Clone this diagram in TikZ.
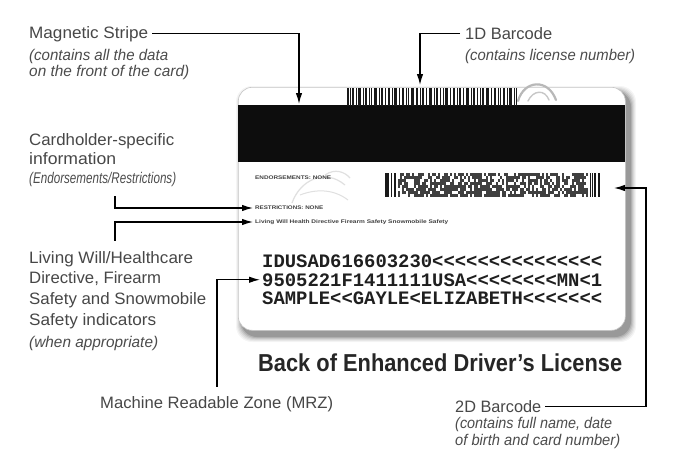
\documentclass[tikz,border=0pt]{standalone}
\usepackage{fontspec}
\usepackage{graphicx}
\setmainfont{Liberation Sans}
\newfontfamily\mrzfont{Liberation Mono}
\usetikzlibrary{arrows.meta}
\newcommand\fw[2]{\resizebox{#1pt}{\height}{#2}}
\begin{document}
\begin{tikzpicture}[x=1pt,y=-1pt,
  lbl/.style={anchor=base west,inner sep=0pt,text=black!72,font=\fontsize{16.5}{18}\selectfont},
  sub/.style={anchor=base west,inner sep=0pt,text=black!70,font=\fontsize{15.5}{17}\selectfont\itshape},
  mrz/.style={anchor=base west,inner sep=0pt,text=black!88,font=\fontsize{19}{20}\selectfont\mrzfont\bfseries},
  tiny/.style={anchor=west,inner sep=1pt,text=black!75,font=\fontsize{5.2}{6}\selectfont\bfseries},
  ln/.style={draw=black,line width=1.2pt},
  arr/.style={draw=black,line width=1.2pt,-{Latex[length=11pt,width=6.5pt]}},
  bar/.style={fill=black!90}]
\useasboundingbox (0,0) rectangle (675,461);
\fill[white] (0,0) rectangle (675,461);

% card shadow
\foreach \i/\o in {5/0.04,4/0.05,3/0.06,2/0.08,1/0.10,0/0.14}
  \fill[black,opacity=\o,rounded corners=16pt] ({238+3-\i},{87+4-\i}) rectangle ({625+6+\i},{330+7+\i});
% card
\node[draw=black!22,line width=0.6pt,fill=white,rounded corners=14pt,minimum width=387pt,minimum height=243pt,inner sep=0pt,anchor=north west] (card) at (238,87) {};
% faint decorations
\draw[black!28,line width=2.2pt,line cap=round] (518,101) .. controls (524,80) and (548,78) .. (556,100);
\draw[black!22,line width=1.4pt,line cap=round] (528,101) .. controls (533,90) and (545,89) .. (549,100);
\draw[black!12,line width=1.2pt] (292,203) .. controls (300,180) and (325,168) .. (345,185);
\draw[black!12,line width=1.2pt] (325,175) .. controls (335,168) and (345,172) .. (350,178);
\draw[black!12,line width=1.0pt] (300,195) .. controls (318,188) and (335,190) .. (348,200);
% magnetic stripe
\node[fill=black!95,minimum width=387pt,minimum height=57pt,inner sep=0pt,anchor=north west] (stripe) at (238,105) {};
% 1D barcode
\node[inner sep=0pt,minimum width=170pt,minimum height=18pt,anchor=north west] (bar1) at (347,88) {};
\foreach \x/\w in {347/2,350/1,352/2,356/1,358/3,363/1,365/2,369/1,371/1,374/3,379/1,381/2,385/1,388/2,392/1,394/3,399/1,402/2,406/1,408/1,411/3,416/2,420/1,422/2,426/1,429/3,434/1,436/2,440/1,443/1,445/3,450/1,453/2,457/1,459/2,463/1,466/3,471/1,473/2,477/1,480/1,482/2,486/3,491/1,494/2,498/1,500/1,503/2,507/1,509/3,514/1,516/1}
  \fill[bar] (\x,88) rectangle ++(\w,18);
% 2D barcode
\node[inner sep=0pt,minimum width=215pt,minimum height=24pt,anchor=north west] (bar2) at (385,173) {};
\foreach \x/\w in {385/4,391/1,394/2,590/1,592/1,594/2,598/2}
  \fill[bar] (\x,173) rectangle ++(\w,24);
\pgfmathsetseed{11}
\foreach \c in {0,...,94}{\foreach \r in {0,...,7}{%
  \pgfmathrandominteger{\v}{0}{2}%
  \ifnum\v>0 \fill[black!75] ({398+2*\c},{173+3*\r}) rectangle ++(2,3);\fi}}
% tiny texts on card
\node[tiny] (endo) at (254,178) {\fw{76}{ENDORSEMENTS: NONE}};
\node[tiny] (restr) at (254,208) {\fw{68}{RESTRICTIONS: NONE}};
\node[tiny] (liv) at (254,222) {\fw{193}{Living Will Health Directive Firearm Safety Snowmobile Safety}};
% MRZ
\node[mrz] (mrz1) at (262,267) {\fw{340}{IDUSAD616603230<<<<<<<<<<<<<<<}};
\node[mrz] (mrz2) at (262,286) {\fw{340}{9505221F1411111USA<<<<<<<<MN<1}};
\node[mrz] (mrz3) at (262,304) {\fw{340}{SAMPLE<<GAYLE<ELIZABETH<<<<<<<}};
% title
\node[anchor=base west,inner sep=0pt,text=black!85,font=\fontsize{24.5}{26}\selectfont\bfseries] (title) at (258,371) {\fw{364}{Back of Enhanced Driver’s License}};

% labels
\node[lbl] (magl) at (29,38) {\fw{119}{Magnetic Stripe}};
\node[sub] (mags1) at (29,60) {\fw{139}{(contains all the data}};
\node[sub] (mags2) at (29,76) {\fw{160}{on the front of the card)}};

\node[lbl] (b1l) at (465,39) {\fw{87}{1D Barcode}};
\node[sub] (b1s) at (465,60) {\fw{170}{(contains license number)}};

\node[lbl] (chl1) at (29,145) {\fw{145}{Cardholder-specific}};
\node[lbl] (chl2) at (29,164) {\fw{87}{information}};
\node[sub] (chl3) at (29,183) {\fw{147}{(Endorsements/Restrictions)}};

\node[lbl] (lw1) at (29,263) {\fw{164}{Living Will/Healthcare}};
\node[lbl] (lw2) at (29,283) {\fw{132}{Directive, Firearm}};
\node[lbl] (lw3) at (29,304) {\fw{177}{Safety and Snowmobile}};
\node[lbl] (lw4) at (29,325) {\fw{127}{Safety indicators}};
\node[sub] (lw5) at (29,347) {\fw{129}{(when appropriate)}};

\node[lbl] (mrzl) at (100,408) {\fw{233}{Machine Readable Zone (MRZ)}};

\node[lbl] (b2l) at (455,412) {\fw{86}{2D Barcode}};
\node[sub] (b2s1) at (455,428) {\fw{157}{(contains full name, date}};
\node[sub] (b2s2) at (455,445) {\fw{165}{of birth and card number)}};

% connector points
\coordinate (magtip) at (299,104);
\coordinate (b1tip) at (420,85);
\coordinate (b2turn) at (646,188);
\coordinate (b2tip) at (614,188);

% connectors
\draw[arr] ([xshift=4pt]magl.east) -| (magtip);
\draw[arr] ([xshift=-5pt]b1l.west) -| (b1tip);
\draw[arr] ([xshift=86pt,yshift=-10pt]chl3.south west) |- ([xshift=-1pt]restr.west);
\draw[arr] ([xshift=86pt,yshift=10pt]lw1.north west) |- ([xshift=-1pt]liv.west);
\draw[arr] ([xshift=117pt,yshift=9pt]mrzl.north west) |- ([xshift=-2pt]mrz2.west);
\draw[arr] ([xshift=4pt]b2l.east) -| (b2turn) -- (b2tip);
\end{tikzpicture}
\end{document}
